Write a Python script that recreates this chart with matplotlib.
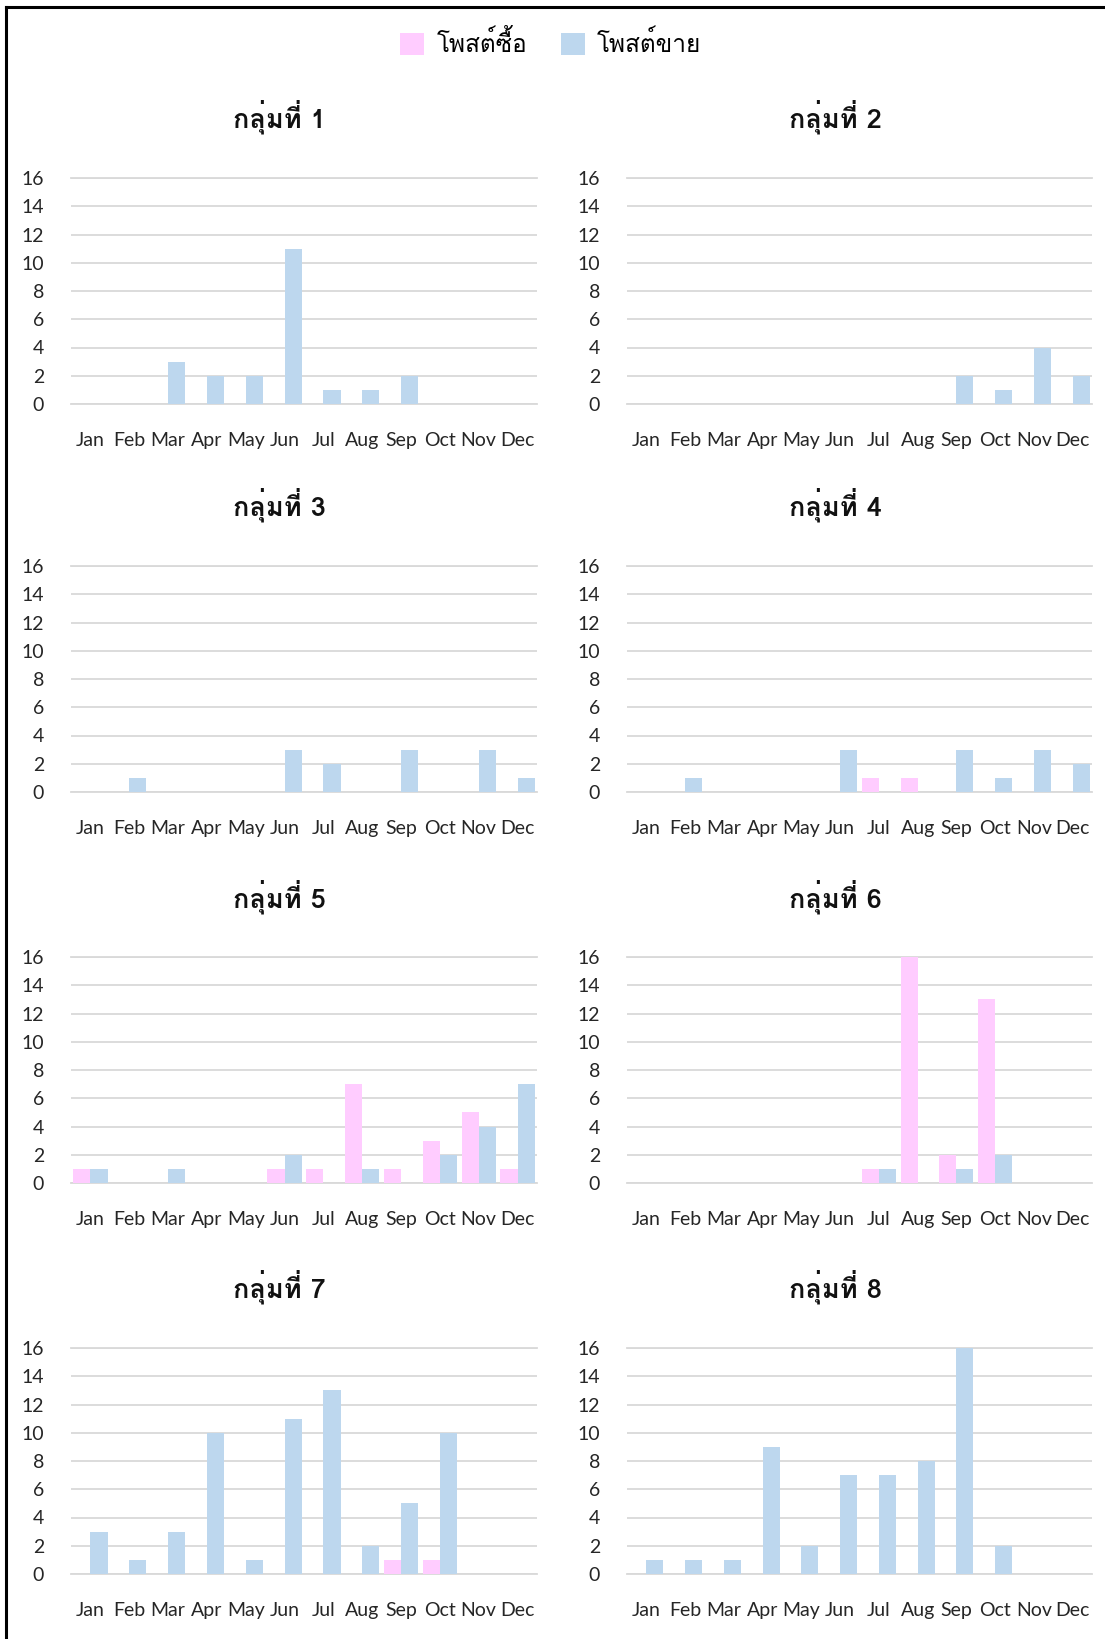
import matplotlib
matplotlib.use("Agg")
import matplotlib.pyplot as plt
from matplotlib.patches import Patch
from matplotlib.lines import Line2D
import numpy as np

months = ['Jan', 'Feb', 'Mar', 'Apr', 'May', 'Jun', 'Jul', 'Aug', 'Sep', 'Oct', 'Nov', 'Dec']
groups = ['กลุ่มที่ 1', 'กลุ่มที่ 2', 'กลุ่มที่ 3', 'กลุ่มที่ 4',
          'กลุ่มที่ 5', 'กลุ่มที่ 6', 'กลุ่มที่ 7', 'กลุ่มที่ 8']
series_names = ['โพสต์ซื้อ', 'โพสต์ขาย']

# buy posts (pink) per group, Jan..Dec
buy_g1 = [0, 0, 0, 0, 0, 0, 0, 0, 0, 0, 0, 0]
buy_g2 = [0, 0, 0, 0, 0, 0, 0, 0, 0, 0, 0, 0]
buy_g3 = [0, 0, 0, 0, 0, 0, 0, 0, 0, 0, 0, 0]
buy_g4 = [0, 0, 0, 0, 0, 0, 1, 1, 0, 0, 0, 0]
buy_g5 = [1, 0, 0, 0, 0, 1, 1, 7, 1, 3, 5, 1]
buy_g6 = [0, 0, 0, 0, 0, 0, 1, 16, 2, 13, 0, 0]
buy_g7 = [0, 0, 0, 0, 0, 0, 0, 0, 1, 1, 0, 0]
buy_g8 = [0, 0, 0, 0, 0, 0, 0, 0, 0, 0, 0, 0]

# sell posts (blue) per group
sell_g1 = [0, 0, 3, 2, 2, 11, 1, 1, 2, 0, 0, 0]
sell_g2 = [0, 0, 0, 0, 0, 0, 0, 0, 2, 1, 4, 2]
sell_g3 = [0, 1, 0, 0, 0, 3, 2, 0, 3, 0, 3, 1]
sell_g4 = [0, 1, 0, 0, 0, 3, 0, 0, 3, 1, 3, 2]
sell_g5 = [1, 0, 1, 0, 0, 2, 0, 1, 0, 2, 4, 7]
sell_g6 = [0, 0, 0, 0, 0, 0, 1, 0, 1, 2, 0, 0]
sell_g7 = [3, 1, 3, 10, 1, 11, 13, 2, 5, 10, 0, 0]
sell_g8 = [1, 1, 1, 9, 2, 7, 7, 8, 16, 2, 0, 0]

buy = [buy_g1, buy_g2, buy_g3, buy_g4, buy_g5, buy_g6, buy_g7, buy_g8]
sell = [sell_g1, sell_g2, sell_g3, sell_g4, sell_g5, sell_g6, sell_g7, sell_g8]

pink = '#FFCCFF'
blue = '#BDD7EE'
grid_col = '#D9D9D9'
thai = ['Loma', 'DejaVu Sans']
latin = ['Lato', 'DejaVu Sans']

W, H = 1105, 1639
fig = plt.figure(figsize=(W / 100, H / 100), dpi=100)

# panel geometry in pixels
col_x = [(71, 537), (627, 1092)]
zero_y = [404, 792, 1183, 1574]
plot_h = 226

x = np.arange(12)
bw = 0.44
for i in range(8):
    r, c = divmod(i, 2)
    x0, x1 = col_x[c]
    ax = fig.add_axes([x0 / W, 1 - zero_y[r] / H, (x1 - x0) / W, plot_h / H])
    ax.bar(x - bw / 2, buy[i], bw, color=pink, zorder=3)
    ax.bar(x + bw / 2, sell[i], bw, color=blue, zorder=3)
    ax.set_xlim(-0.5, 11.5)
    ax.set_ylim(0, 16)
    ax.set_yticks(range(0, 17, 2))
    ax.set_xticks(x)
    ax.set_xticklabels(months)
    ax.yaxis.grid(True, color=grid_col, lw=1.3, zorder=0)
    ax.set_axisbelow(True)
    for s in ax.spines.values():
        s.set_visible(False)
    ax.tick_params(length=0, labelsize=14, labelcolor='#262626')
    ax.tick_params(axis='y', pad=19.5)
    ax.tick_params(axis='x', pad=20.5)
    for lab in ax.get_xticklabels() + ax.get_yticklabels():
        lab.set_family(latin)
    ax.set_title(groups[i], family=thai, fontweight='bold', fontsize=19.5,
                 pad=36, color='#111111', x=0.448)
    for gy in [0, 16]:
        ax.axhline(gy, color=grid_col, lw=1.3, zorder=1, clip_on=False)

handles = [Patch(facecolor=pink, label=series_names[0]),
           Patch(facecolor=blue, label=series_names[1])]
fig.legend(handles=handles, loc='center', bbox_to_anchor=(0.4985, 1 - 44 / H),
           ncol=2, frameon=False, prop={'family': thai, 'size': 17.5},
           handlelength=0.98, handleheight=0.98, handletextpad=0.5,
           columnspacing=1.4)

# outer frame on top and left edge
fig.add_artist(Line2D([6 / W, 1], [1 - 7 / H, 1 - 7 / H], color='black', lw=2.2))
fig.add_artist(Line2D([6 / W, 6 / W], [0, 1 - 7 / H], color='black', lw=2.2))

fig.savefig('out.png', dpi=100)
